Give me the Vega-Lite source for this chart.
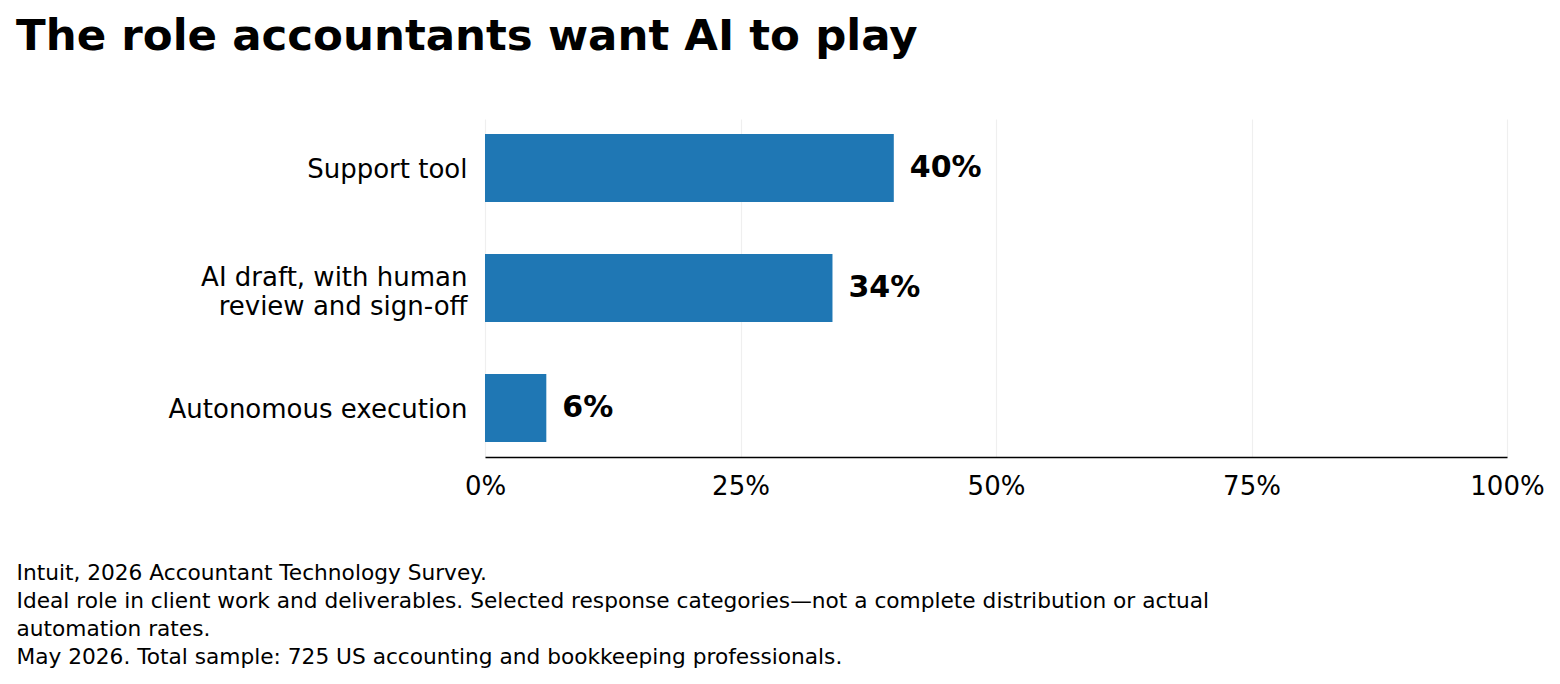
{
  "$schema": "https://vega.github.io/schema/vega-lite/v6.json",
  "width": 1022,
  "height": 338,
  "autosize": {"type": "none"},
  "padding": {"left": 485, "top": 119, "right": 53, "bottom": 227},
  "background": "white",
  "title": {
    "text": "The role accountants want AI to play",
    "anchor": "start",
    "frame": "group",
    "dx": -469,
    "offset": 26,
    "baseline": "alphabetic",
    "font": "DejaVu Sans",
    "fontSize": 43.5,
    "fontWeight": "bold",
    "color": "black"
  },
  "data": {
    "values": [
      {"role": "Support tool", "share": 0.40},
      {"role": "AI draft, with human\nreview and sign-off", "share": 0.34},
      {"role": "Autonomous execution", "share": 0.06}
    ]
  },
  "encoding": {
    "y": {
      "field": "role",
      "type": "nominal",
      "sort": null,
      "title": null,
      "scale": {"paddingInner": 0.4333, "paddingOuter": 0.125},
      "axis": {
        "domain": false,
        "ticks": false,
        "grid": false,
        "labelPadding": 18,
        "labelLimit": 0,
        "labelFont": "DejaVu Sans",
        "labelFontSize": 26,
        "labelColor": "black",
        "labelLineHeight": 29,
        "labelOffset": {"condition": {"test": "indexof(datum.value, 'AI draft') == 0", "value": -10}, "value": 2},
        "labelExpr": "split(datum.label, '\\n')"
      }
    },
    "x": {
      "field": "share",
      "type": "quantitative",
      "scale": {"domain": [0, 1]},
      "axis": {
        "values": [0, 0.25, 0.5, 0.75, 1],
        "format": ".0%",
        "labelFont": "DejaVu Sans",
        "labelFontSize": 26,
        "labelColor": "black",
        "labelPadding": 16,
        "labelFlush": false,
        "ticks": false,
        "domainColor": "black",
        "domainWidth": 1.5,
        "grid": true,
        "gridColor": "#efefef",
        "gridWidth": 1.2,
        "title": [
          "Intuit, 2026 Accountant Technology Survey.",
          "Ideal role in client work and deliverables. Selected response categories\u2014not a complete distribution or actual",
          "automation rates.",
          "May 2026. Total sample: 725 US accounting and bookkeeping professionals."
        ],
        "titleFont": "DejaVu Sans",
        "titleFontSize": 21.7,
        "titleFontWeight": "normal",
        "titleColor": "black",
        "titleLineHeight": 28,
        "titleAlign": "left",
        "titleAnchor": "start",
        "titleBaseline": "alphabetic",
        "titleX": -469,
        "titleY": 122
      }
    }
  },
  "layer": [
    {
      "mark": {"type": "bar", "color": "#1f77b4"}
    },
    {
      "mark": {
        "type": "text",
        "align": "left",
        "baseline": "middle",
        "dx": 16,
        "font": "DejaVu Sans",
        "fontSize": 30,
        "fontWeight": "bold",
        "color": "black"
      },
      "encoding": {
        "text": {"field": "share", "type": "quantitative", "format": ".0%"}
      }
    }
  ],
  "config": {"view": {"stroke": null}}
}
